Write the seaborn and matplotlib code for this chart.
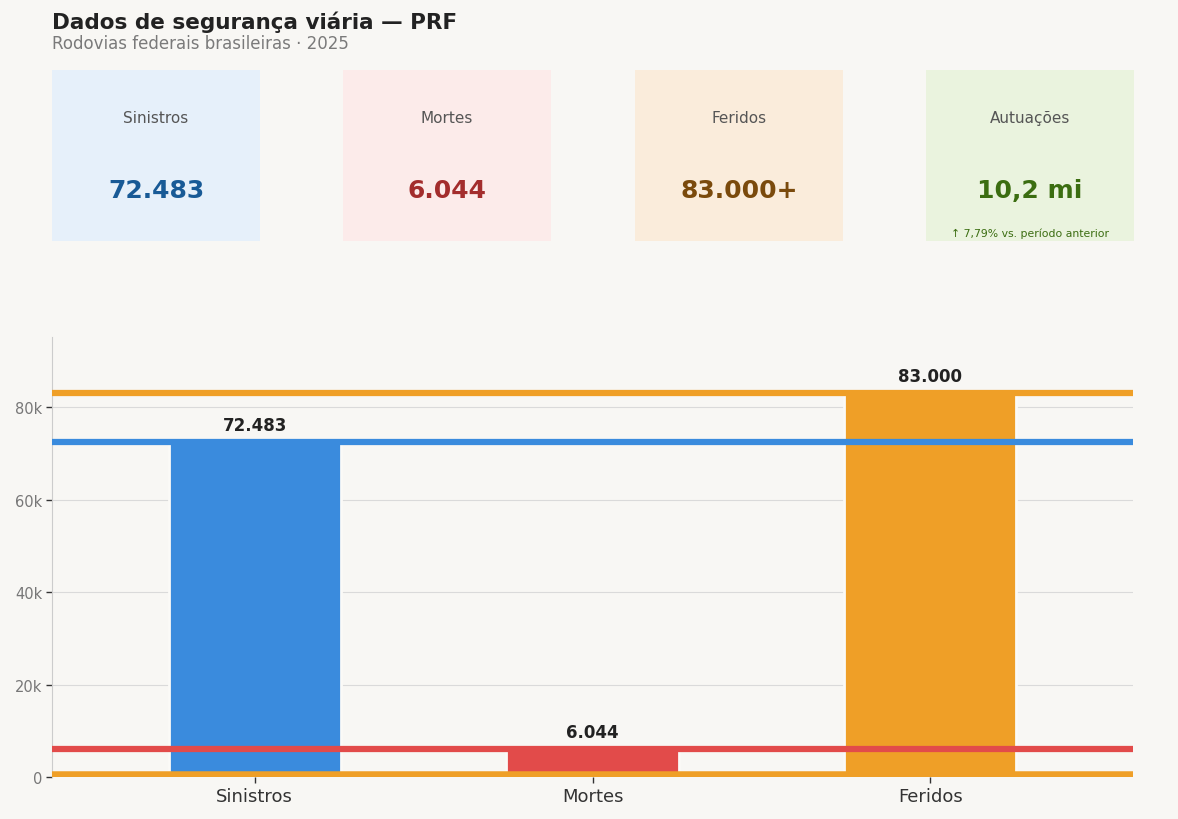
import matplotlib
matplotlib.use("Agg")
import matplotlib.pyplot as plt
from matplotlib.ticker import FuncFormatter
import seaborn as sns
import pandas as pd

# dados
categorias = ["Sinistros", "Mortes", "Feridos"]
valores = [72483, 6044, 83000]
rotulos_barras = ["72.483", "6.044", "83.000"]
cores_barras = ["#3a8bdd", "#e24b4a", "#ef9f27"]

cards_titulo = ["Sinistros", "Mortes", "Feridos", "Autuações"]
cards_valor = ["72.483", "6.044", "83.000+", "10,2 mi"]
cards_nota = ["", "", "", "↑ 7,79% vs. período anterior"]
cards_fundo = ["#e6f0fa", "#fcebea", "#faecdb", "#eaf3de"]
cards_cor = ["#185a96", "#a32d2d", "#7a4a0c", "#3b6d11"]

BG = "#f8f7f4"

sns.set_theme(style="whitegrid")
plt.rcParams.update({
    "figure.facecolor": BG,
    "axes.facecolor": BG,
    "grid.color": "#dadada",
    "grid.linewidth": 0.8,
    "font.family": ["DejaVu Sans"],
})

fig = plt.figure(figsize=(11.78, 8.2), dpi=100)

fig.text(52/1178, 1 - 22/820, "Dados de segurança viária — PRF", fontsize=15.5,
         fontweight="bold", color="#222222", va="center", ha="left")
fig.text(52/1178, 1 - 44/820, "Rodovias federais brasileiras · 2025", fontsize=12,
         color="#7a7a7a", va="center", ha="left")

# cards
card_x = [52, 343, 635, 926]
for i in range(4):
    cax = fig.add_axes([card_x[i]/1178, 1 - 242/820, 208/1178, 171/820])
    cax.set_facecolor(cards_fundo[i])
    cax.set_xticks([])
    cax.set_yticks([])
    cax.grid(False)
    for s in cax.spines.values():
        s.set_visible(False)
    cax.text(0.5, 0.725, cards_titulo[i], ha="center", va="center",
             fontsize=11, color="#555555", transform=cax.transAxes)
    cax.text(0.5, 0.30, cards_valor[i], ha="center", va="center", fontsize=18,
             fontweight="bold", color=cards_cor[i], transform=cax.transAxes)
    if cards_nota[i]:
        cax.text(0.5, 0.05, cards_nota[i], ha="center", va="center",
                 fontsize=7.8, color=cards_cor[i], transform=cax.transAxes)

# grafico de barras
ax = fig.add_axes([52/1178, 1 - 778/820, (1133 - 52)/1178, (778 - 338)/820])
df = pd.DataFrame({"categoria": categorias, "valor": valores})
sns.barplot(data=df, x="categoria", y="valor", hue="categoria", palette=cores_barras,
            saturation=1, width=0.51, edgecolor="#fbfaf7", linewidth=2,
            legend=False, ax=ax, zorder=2)

for v, c in zip(valores, cores_barras):
    ax.axhline(v, color=c, linewidth=4.5, zorder=3)
ax.axhline(0, color=cores_barras[-1], linewidth=9, zorder=3)

for i, (v, r) in enumerate(zip(valores, rotulos_barras)):
    ax.annotate(r, (i, v), xytext=(0, 6), textcoords="offset points", ha="center",
                va="bottom", fontsize=12, fontweight="bold", color="#222222")

ax.set_xlim(-0.6, 2.6)
ax.set_ylim(0, 95200)
ax.set_yticks([0, 20000, 40000, 60000, 80000])
ax.yaxis.set_major_formatter(FuncFormatter(lambda x, p: "0" if x == 0 else f"{int(x/1000)}k"))
ax.set_xlabel("")
ax.set_ylabel("")
ax.grid(axis="x", visible=False)
ax.set_axisbelow(True)
ax.tick_params(axis="y", labelsize=10.5, labelcolor="#777777", length=4, width=1,
               color="#333333", left=True, pad=3)
ax.tick_params(axis="x", labelsize=13, labelcolor="#333333", length=4, width=1,
               color="#333333", bottom=True, pad=3)
for s in ["top", "right", "bottom"]:
    ax.spines[s].set_visible(False)
ax.spines["left"].set_color("#cccccc")
ax.spines["left"].set_linewidth(0.8)

fig.savefig("out.png", dpi=100, facecolor=BG)
